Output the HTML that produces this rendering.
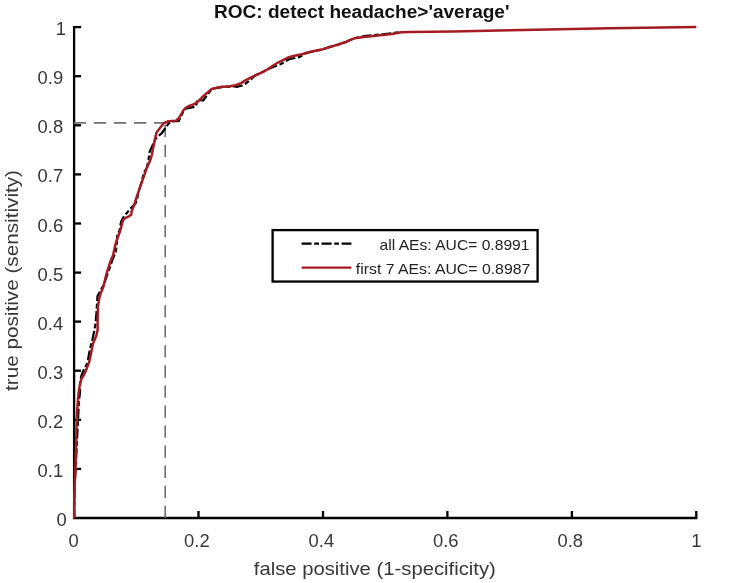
<!DOCTYPE html>
<html><head><meta charset="utf-8"><style>
html,body{margin:0;padding:0;background:#fff;}
body{width:744px;height:583px;overflow:hidden;}
svg{display:block;will-change:transform;font-family:"Liberation Sans",sans-serif;}
</style></head><body>
<svg width="744" height="583" viewBox="0 0 744 583">
<rect width="744" height="583" fill="#fff"/>
<g stroke="#000" stroke-width="2.3" fill="none">
<polyline points="74.1,26.0 74.1,518 697.4,518"/>
<line x1="198.5" y1="518" x2="198.5" y2="511" /><line x1="323.0" y1="518" x2="323.0" y2="511" /><line x1="447.4" y1="518" x2="447.4" y2="511" /><line x1="571.9" y1="518" x2="571.9" y2="511" /><line x1="696.3" y1="518" x2="696.3" y2="511" /><line x1="74.1" y1="468.9" x2="81.1" y2="468.9" /><line x1="74.1" y1="419.8" x2="81.1" y2="419.8" /><line x1="74.1" y1="370.7" x2="81.1" y2="370.7" /><line x1="74.1" y1="321.6" x2="81.1" y2="321.6" /><line x1="74.1" y1="272.6" x2="81.1" y2="272.6" /><line x1="74.1" y1="223.5" x2="81.1" y2="223.5" /><line x1="74.1" y1="174.4" x2="81.1" y2="174.4" /><line x1="74.1" y1="125.3" x2="81.1" y2="125.3" /><line x1="74.1" y1="76.2" x2="81.1" y2="76.2" /><line x1="74.1" y1="27.1" x2="81.1" y2="27.1" />
</g>
<g stroke="#707070" stroke-width="1.6" fill="none" stroke-dasharray="12.3 7.75">
<line x1="73.8" y1="122.9" x2="165.2" y2="122.9"/>
<line x1="165.2" y1="518" x2="165.2" y2="122.9"/>
</g>
<polyline points="74.2,518.5 74.2,505.0 74.5,490.0 74.9,480.0 75.6,470.0 76.3,455.0 77.0,440.0 77.8,425.0 78.3,413.6 79.0,400.7 80.0,392.0 80.2,383.0 81.0,377.0 82.5,373.0 84.0,369.3 87.5,363.0 89.0,354.0 90.5,347.0 92.6,338.5 94.0,332.0 95.5,324.0 96.5,312.0 97.0,304.0 97.5,296.0 100.0,291.5 103.0,286.0 104.8,282.0 106.8,276.0 108.5,271.0 110.5,266.0 112.3,260.0 115.8,252.0 116.7,244.0 117.3,235.5 119.7,229.9 121.0,221.9 123.0,218.0 125.3,214.5 127.2,212.6 130.1,208.9 133.2,205.8 135.5,203.5 137.0,199.6 138.5,192.0 141.3,183.0 144.0,172.5 146.9,167.7 148.5,160.0 149.5,152.0 151.2,148.6 153.5,143.0 155.5,139.0 158.0,136.3 161.5,133.5 165.0,128.7 168.3,123.9 171.0,121.5 176.0,121.0 178.6,121.2 181.6,115.2 184.0,110.0 186.5,108.3 189.4,107.8 196.0,106.5 197.2,100.0 203.2,100.5 207.4,94.8 209.8,91.5 211.7,88.9 217.1,87.8 222.6,86.8 228.8,86.6 234.0,86.5 237.4,86.8 242.0,85.5 246.0,83.3 249.0,81.0 252.0,78.5 255.1,75.5 261.6,72.6 267.4,69.5 272.0,67.5 277.0,65.5 281.0,64.0 285.0,61.5 290.0,58.8 295.0,58.0 299.0,57.2 302.0,55.5 306.1,53.0 314.2,51.0 322.3,49.4 330.3,46.9 338.4,44.5 346.5,41.7 349.7,40.2 354.4,38.3 363.8,36.2 373.2,35.2 382.6,34.3 392.0,33.2 401.4,32.0 410.9,32.0" fill="none" stroke="#000" stroke-width="2.2" stroke-dasharray="10 2.6 4.8 2.6" stroke-linejoin="round"/>
<polyline points="74.2,518.5 74.2,505.0 74.5,490.0 74.9,480.0 75.4,470.0 75.8,455.0 76.2,440.0 76.6,425.0 77.0,413.6 77.9,400.7 78.7,392.1 80.0,383.6 81.7,378.4 83.9,375.0 85.7,371.0 89.1,362.4 91.3,352.1 93.0,343.6 96.4,335.5 97.6,330.0 97.6,319.3 98.0,306.4 99.3,297.9 100.6,293.6 103.1,287.6 104.5,282.0 106.3,274.5 107.5,270.5 109.0,266.0 110.5,261.2 113.1,255.3 114.3,249.5 115.7,243.5 117.8,237.2 120.3,230.5 121.9,224.4 123.1,220.0 125.9,217.6 129.0,216.3 131.3,214.5 131.6,211.5 133.2,207.4 134.2,205.0 136.1,198.6 138.8,190.9 141.5,183.1 144.2,175.4 146.9,167.7 150.4,160.0 151.8,155.0 152.8,150.0 154.0,143.6 155.5,137.0 156.5,132.5 159.4,128.7 163.5,123.4 167.6,121.5 172.0,120.9 176.0,120.7 179.0,118.0 181.0,114.5 183.2,110.5 185.5,108.0 188.4,106.2 192.7,104.7 196.2,103.0 199.0,100.5 201.6,97.8 205.0,94.8 208.2,91.9 211.7,88.9 217.1,87.8 222.6,86.8 228.8,86.6 234.3,85.6 241.1,83.1 245.4,80.4 249.7,78.2 255.1,75.5 261.6,72.6 267.4,69.5 272.8,65.7 278.1,62.5 283.5,59.8 288.9,57.1 294.3,55.8 302.0,54.2 306.1,53.0 314.2,51.0 322.3,49.4 330.3,46.9 338.4,44.5 346.5,41.7 349.7,40.2 354.4,38.3 363.8,36.9 373.2,36.0 382.6,35.1 392.0,33.9 401.4,32.2 410.9,32.0 452.9,31.4 510.0,30.2 560.0,29.2 610.0,28.3 696.3,27.1" fill="none" stroke="#a31c24" stroke-width="2.5" stroke-linejoin="round"/>
<g fill="#383838" font-size="18.4">
<text x="73.7" y="547" text-anchor="middle">0</text><text x="196.9" y="547" text-anchor="middle">0.2</text><text x="321.4" y="547" text-anchor="middle">0.4</text><text x="445.8" y="547" text-anchor="middle">0.6</text><text x="570.3" y="547" text-anchor="middle">0.8</text><text x="696.3" y="547" text-anchor="middle">1</text>
<text x="66.7" y="526.0" text-anchor="end">0</text><text x="63.2" y="476.9" text-anchor="end">0.1</text><text x="63.2" y="427.8" text-anchor="end">0.2</text><text x="63.2" y="378.7" text-anchor="end">0.3</text><text x="63.2" y="329.6" text-anchor="end">0.4</text><text x="63.2" y="280.6" text-anchor="end">0.5</text><text x="63.2" y="231.5" text-anchor="end">0.6</text><text x="63.2" y="182.4" text-anchor="end">0.7</text><text x="63.2" y="133.3" text-anchor="end">0.8</text><text x="63.2" y="84.2" text-anchor="end">0.9</text><text x="66.1" y="35.1" text-anchor="end">1</text>
</g>
<text x="214" y="17.6" font-weight="bold" font-size="18.3" fill="#111" textLength="295.5" lengthAdjust="spacingAndGlyphs">ROC: detect headache&gt;'average'</text>
<text x="253.8" y="575.4" font-size="19" fill="#383838" textLength="242" lengthAdjust="spacingAndGlyphs">false positive (1-specificity)</text>
<text transform="translate(17.7,391) rotate(-90)" font-size="19" fill="#383838" textLength="221" lengthAdjust="spacingAndGlyphs">true positive (sensitivity)</text>
<rect x="272.6" y="230.1" width="265" height="51.45" fill="#fff" stroke="#000" stroke-width="2.3"/>
<line x1="301.6" y1="243.6" x2="351.4" y2="243.6" stroke="#000" stroke-width="2.4" stroke-dasharray="10 2.6 4.8 2.6"/>
<line x1="301.6" y1="267.6" x2="351.4" y2="267.6" stroke="#a31c24" stroke-width="2.4"/>
<text x="379.5" y="250.3" font-size="15" fill="#222" textLength="150" lengthAdjust="spacingAndGlyphs">all AEs: AUC= 0.8991</text>
<text x="355.8" y="274.3" font-size="15" fill="#222" textLength="174.5" lengthAdjust="spacingAndGlyphs">first 7 AEs: AUC= 0.8987</text>
</svg>
</body></html>
